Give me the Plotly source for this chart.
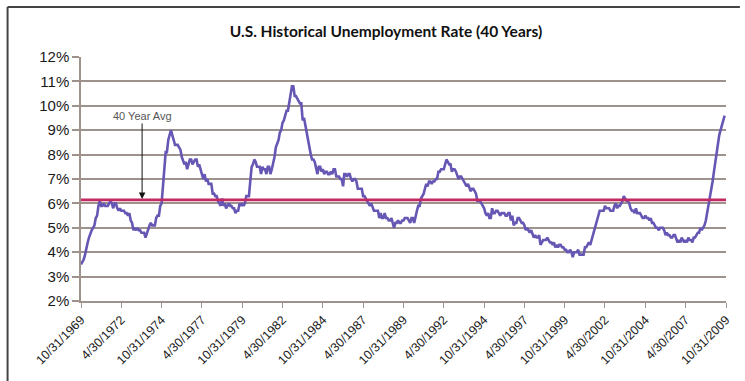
import pandas as pd
import plotly.graph_objects as go

# Monthly civilian unemployment rate (%), Oct 1969 through Sep 2009
rate_1969 = [3.5, 3.6, 3.7]
rate_1970 = [3.9, 4.2, 4.4, 4.6, 4.8, 4.9, 5.0, 5.1, 5.4, 5.5, 5.9, 6.1]
rate_1971 = [5.9, 5.9, 6.0, 5.9, 5.9, 5.9, 6.0, 6.1, 6.0, 5.8, 6.0, 6.0]
rate_1972 = [5.8, 5.7, 5.8, 5.7, 5.7, 5.7, 5.6, 5.6, 5.5, 5.6, 5.3, 5.2]
rate_1973 = [4.9, 5.0, 4.9, 5.0, 4.9, 4.9, 4.8, 4.8, 4.8, 4.6, 4.8, 4.9]
rate_1974 = [5.1, 5.2, 5.1, 5.1, 5.1, 5.4, 5.5, 5.5, 5.9, 6.0, 6.6, 7.2]
rate_1975 = [8.1, 8.1, 8.6, 8.8, 9.0, 8.8, 8.6, 8.4, 8.4, 8.4, 8.3, 8.2]
rate_1976 = [7.9, 7.7, 7.6, 7.7, 7.4, 7.6, 7.8, 7.8, 7.6, 7.7, 7.8, 7.8]
rate_1977 = [7.5, 7.6, 7.4, 7.2, 7.0, 7.2, 6.9, 7.0, 6.8, 6.8, 6.8, 6.4]
rate_1978 = [6.4, 6.3, 6.3, 6.1, 6.0, 5.9, 6.2, 5.9, 6.0, 5.8, 5.9, 6.0]
rate_1979 = [5.9, 5.9, 5.8, 5.8, 5.6, 5.7, 5.7, 6.0, 5.9, 6.0, 5.9, 6.0]
rate_1980 = [6.3, 6.3, 6.3, 6.9, 7.5, 7.6, 7.8, 7.7, 7.5, 7.5, 7.5, 7.2]
rate_1981 = [7.5, 7.4, 7.4, 7.2, 7.5, 7.5, 7.2, 7.4, 7.6, 7.9, 8.3, 8.5]
rate_1982 = [8.6, 8.9, 9.0, 9.3, 9.4, 9.6, 9.8, 9.8, 10.1, 10.4, 10.8, 10.8]
rate_1983 = [10.4, 10.4, 10.3, 10.2, 10.1, 10.1, 9.4, 9.5, 9.2, 8.8, 8.5, 8.3]
rate_1984 = [8.0, 7.8, 7.8, 7.7, 7.4, 7.2, 7.5, 7.5, 7.3, 7.4, 7.2, 7.3]
rate_1985 = [7.3, 7.2, 7.2, 7.3, 7.2, 7.4, 7.4, 7.1, 7.1, 7.1, 7.0, 7.0]
rate_1986 = [6.7, 7.2, 7.2, 7.1, 7.2, 7.2, 7.0, 6.9, 7.0, 7.0, 6.9, 6.6]
rate_1987 = [6.6, 6.6, 6.6, 6.3, 6.3, 6.2, 6.1, 6.0, 5.9, 6.0, 5.8, 5.7]
rate_1988 = [5.7, 5.7, 5.7, 5.4, 5.6, 5.4, 5.4, 5.6, 5.4, 5.4, 5.3, 5.3]
rate_1989 = [5.4, 5.2, 5.0, 5.2, 5.2, 5.3, 5.2, 5.2, 5.3, 5.3, 5.4, 5.4]
rate_1990 = [5.4, 5.3, 5.2, 5.4, 5.4, 5.2, 5.5, 5.7, 5.9, 5.9, 6.2, 6.3]
rate_1991 = [6.4, 6.6, 6.8, 6.7, 6.9, 6.9, 6.8, 6.9, 6.9, 7.0, 7.0, 7.3]
rate_1992 = [7.3, 7.4, 7.4, 7.4, 7.6, 7.8, 7.7, 7.6, 7.6, 7.3, 7.4, 7.4]
rate_1993 = [7.3, 7.1, 7.0, 7.1, 7.1, 7.0, 6.9, 6.8, 6.7, 6.8, 6.6, 6.5]
rate_1994 = [6.6, 6.6, 6.5, 6.4, 6.1, 6.1, 6.1, 6.0, 5.9, 5.8, 5.6, 5.5]
rate_1995 = [5.6, 5.4, 5.4, 5.8, 5.6, 5.6, 5.7, 5.7, 5.6, 5.5, 5.6, 5.6]
rate_1996 = [5.6, 5.5, 5.5, 5.6, 5.6, 5.3, 5.5, 5.1, 5.2, 5.2, 5.4, 5.4]
rate_1997 = [5.3, 5.2, 5.2, 5.1, 4.9, 5.0, 4.9, 4.8, 4.9, 4.7, 4.6, 4.7]
rate_1998 = [4.6, 4.6, 4.7, 4.3, 4.4, 4.5, 4.5, 4.5, 4.6, 4.5, 4.4, 4.4]
rate_1999 = [4.3, 4.4, 4.2, 4.3, 4.2, 4.3, 4.3, 4.2, 4.2, 4.1, 4.1, 4.0]
rate_2000 = [4.0, 4.1, 4.0, 3.8, 4.0, 4.0, 4.0, 4.1, 3.9, 3.9, 3.9, 3.9]
rate_2001 = [4.2, 4.2, 4.3, 4.4, 4.3, 4.5, 4.6, 4.9, 5.0, 5.3, 5.5, 5.7]
rate_2002 = [5.7, 5.7, 5.7, 5.9, 5.8, 5.8, 5.8, 5.7, 5.7, 5.7, 5.9, 6.0]
rate_2003 = [5.8, 5.9, 5.9, 6.0, 6.1, 6.3, 6.2, 6.1, 6.1, 6.0, 5.8, 5.7]
rate_2004 = [5.7, 5.6, 5.8, 5.6, 5.6, 5.6, 5.5, 5.4, 5.4, 5.5, 5.4, 5.4]
rate_2005 = [5.3, 5.4, 5.2, 5.2, 5.1, 5.0, 5.0, 4.9, 5.0, 5.0, 5.0, 4.9]
rate_2006 = [4.7, 4.8, 4.7, 4.7, 4.6, 4.6, 4.7, 4.7, 4.5, 4.4, 4.5, 4.4]
rate_2007 = [4.6, 4.5, 4.4, 4.5, 4.4, 4.6, 4.5, 4.5, 4.4, 4.6, 4.6, 4.7]
rate_2008 = [4.8, 4.8, 5.0, 4.9, 5.0, 5.1, 5.3, 5.6, 5.9, 6.2, 6.5, 6.9]
rate_2009 = [7.3, 7.7, 8.1, 8.5, 8.8, 9.0, 9.2, 9.4, 9.6]

yearly_rates = [
    rate_1969, rate_1970, rate_1971, rate_1972, rate_1973, rate_1974,
    rate_1975, rate_1976, rate_1977, rate_1978, rate_1979, rate_1980,
    rate_1981, rate_1982, rate_1983, rate_1984, rate_1985, rate_1986,
    rate_1987, rate_1988, rate_1989, rate_1990, rate_1991, rate_1992,
    rate_1993, rate_1994, rate_1995, rate_1996, rate_1997, rate_1998,
    rate_1999, rate_2000, rate_2001, rate_2002, rate_2003, rate_2004,
    rate_2005, rate_2006, rate_2007, rate_2008, rate_2009,
]
rates = [v for year in yearly_rates for v in year]
dates = pd.date_range("1969-10-31", periods=len(rates), freq="ME")

# Category labels every 30 months
tick_labels = [
    "10/31/1969", "4/30/1972", "10/31/1974", "4/30/1977", "10/31/1979",
    "4/30/1982", "10/31/1984", "4/30/1987", "10/31/1989", "4/30/1992",
    "10/31/1994", "4/30/1997", "10/31/1999", "4/30/2002", "10/31/2004",
    "4/30/2007", "10/31/2009",
]
tick_dates = pd.to_datetime(tick_labels, format="%m/%d/%Y")

avg_label = "40 Year Avg"
avg_rate = sum(rates) / len(rates)

axis_start = tick_dates[0]
axis_end = tick_dates[-1]

fig = go.Figure()
fig.add_trace(go.Scatter(
    x=dates, y=rates, mode="lines",
    line=dict(color="#6657b4", width=2.6),
    hoverinfo="x+y", showlegend=False,
))
fig.add_trace(go.Scatter(
    x=[axis_start, axis_end], y=[avg_rate, avg_rate], mode="lines",
    line=dict(color="#c42a62", width=2.8),
    hoverinfo="skip", showlegend=False,
))

grid_color = "#9e928d"

# Chart frame: left edge and top edge of the outer border (kept inside the page)
fx0 = (7 - 81) / 650
fx1 = (745 - 81) / 650
fy0 = (301 - 381) / 244
fy1 = (301 - 7) / 244

fig.update_layout(
    width=745, height=381,
    margin=dict(l=81, r=14, t=57, b=80),
    paper_bgcolor="white", plot_bgcolor="white",
    title=dict(
        text="U.S. Historical Unemployment Rate (40 Years)",
        x=386 / 745, xref="container", xanchor="center",
        y=1 - 32 / 381, yref="container", yanchor="middle",
        font=dict(family="Lato", size=15.5, color="#111111", weight="bold"),
    ),
    font=dict(family="Liberation Sans", color="#222222"),
    xaxis=dict(
        type="date",
        range=[axis_start, axis_end],
        tickmode="array",
        tickvals=list(tick_dates),
        ticktext=tick_labels,
        tickangle=-45,
        tickfont=dict(size=12.5, color="#1a1a1a"),
        ticks="outside", ticklen=5, tickwidth=1, tickcolor=grid_color,
        showgrid=False, showline=True, linecolor=grid_color, linewidth=1.5,
        zeroline=False,
    ),
    yaxis=dict(
        range=[2, 12], dtick=1, tick0=2,
        ticksuffix="%",
        tickfont=dict(size=15, color="#1a1a1a"),
        ticks="outside", ticklen=7, tickwidth=1.5, tickcolor=grid_color,
        showgrid=True, gridcolor=grid_color, gridwidth=1.6,
        showline=True, linecolor=grid_color, linewidth=1.5,
        zeroline=False,
    ),
    annotations=[dict(
        x=pd.Timestamp("1973-08-15"), y=avg_rate, xref="x", yref="y",
        text=avg_label, showarrow=True,
        ax=0, ay=-84, axref="pixel", ayref="pixel",
        arrowhead=2, arrowsize=1.3, arrowwidth=1, arrowcolor="#111111",
        standoff=1,
        font=dict(family="Liberation Sans", size=11, color="#555555"),
    )],
    shapes=[
        dict(type="line", xref="paper", yref="paper",
             x0=fx0, x1=fx0, y0=fy0, y1=fy1,
             line=dict(color="#444444", width=2), layer="below"),
        dict(type="line", xref="paper", yref="paper",
             x0=fx0, x1=fx1, y0=fy1, y1=fy1,
             line=dict(color="#444444", width=2), layer="below"),
    ],
)

# Keep the page from scrolling around the fixed-size figure
fig.write_html(
    "out.html",
    post_script=(
        "document.documentElement.style.overflow='hidden';"
        "document.body.style.margin='0';"
        "document.body.style.overflow='hidden';"
    ),
)
